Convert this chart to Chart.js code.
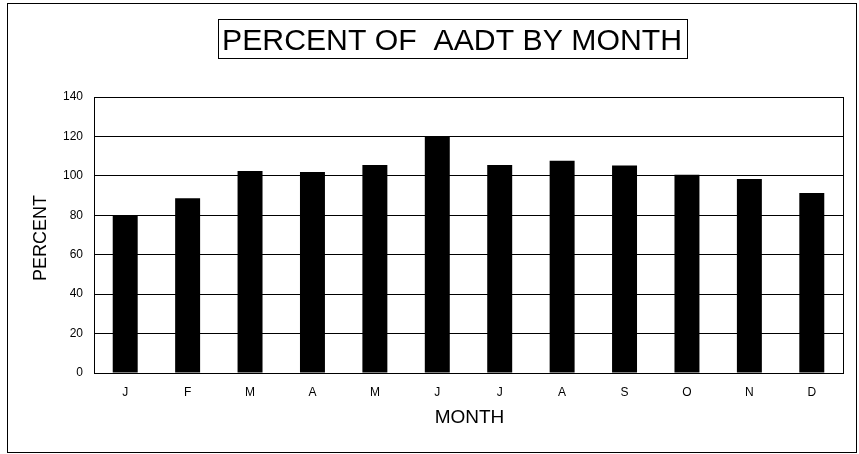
<!DOCTYPE html>
<html>
<head>
<meta charset="utf-8">
<script src="https://cdn.jsdelivr.net/npm/chart.js@4.4.0/dist/chart.umd.min.js"></script>
<style>
  body { margin: 0; background: #fff; }
  canvas { display: block; }
</style>
</head>
<body>
<canvas id="myChart" width="859" height="454"></canvas>
<script>
// data
var months = ["J", "F", "M", "A", "M", "J", "J", "A", "S", "O", "N", "D"];
var percentAadt = [80.0, 88.6, 102.5, 102.0, 105.5, 120.0, 105.5, 107.7, 105.2, 100.5, 98.4, 91.3];
var yTicks = [0, 20, 40, 60, 80, 100, 120, 140];

var chartTitle = "PERCENT OF  AADT BY MONTH";
var xTitle = "MONTH";
var yTitle = "PERCENT";
var fontFam = '"Liberation Sans", Arial, sans-serif';

// outer frame, boxed title, plot frame and axis titles
var decorations = {
	id: 'decorations',
	afterDraw: function (chart) {
		var ctx = chart.ctx;
		var area = chart.chartArea;
		ctx.save();
		ctx.strokeStyle = '#000';
		ctx.lineWidth = 1;
		// outer frame
		ctx.strokeRect(7.5, 3.5, 849, 449);
		// plot frame
		ctx.strokeRect(Math.round(area.left) + 0.5, Math.round(area.top) + 0.5,
			Math.round(area.right - area.left), Math.round(area.bottom - area.top));
		// title box
		ctx.strokeRect(218.5, 19.5, 469, 39);

		// title text, squeezed to the width in the picture
		ctx.fillStyle = '#000';
		ctx.font = '30px ' + fontFam;
		ctx.textBaseline = 'alphabetic';
		var w = ctx.measureText(chartTitle).width;
		ctx.save();
		ctx.translate(222, 50);
		ctx.scale(460 / w, 1);
		ctx.fillText(chartTitle, 0, 0);
		ctx.restore();

		// x axis title
		ctx.font = '19px ' + fontFam;
		ctx.textAlign = 'center';
		ctx.fillText(xTitle, (area.left + area.right) / 2 + 1, 423);

		// y axis title
		ctx.save();
		ctx.translate(46, (area.top + area.bottom) / 2 + 3);
		ctx.rotate(-Math.PI / 2);
		ctx.font = '18px ' + fontFam;
		ctx.fillText(yTitle, 0, 0);
		ctx.restore();
		ctx.restore();
	}
};

var ctx = document.getElementById("myChart").getContext('2d');
var myChart = new Chart(ctx, {
	type: 'bar',
	data: {
		labels: months,
		datasets: [{
			data: percentAadt,
			backgroundColor: '#000',
			borderWidth: 0,
			barPercentage: 0.4,
			categoryPercentage: 1.0
		}]
	},
	options: {
		responsive: false,
		animation: false,
		layout: { padding: { left: 0, top: 97, right: 16, bottom: 0 } },
		plugins: {
			legend: { display: false },
			tooltip: { enabled: false },
			title: { display: false }
		},
		scales: {
			x: {
				grid: { display: false, drawTicks: false },
				border: { display: true, color: '#000' },
				ticks: {
					color: '#000',
					padding: 12,
					font: { family: fontFam, size: 12 }
				},
				afterFit: function (scale) { scale.height = 81; }
			},
			y: {
				min: 0,
				max: 140,
				afterBuildTicks: function (scale) {
					scale.ticks = yTicks.map(function (v) { return { value: v }; });
				},
				grid: { color: '#000', drawTicks: false, lineWidth: 1 },
				border: { display: true, color: '#000' },
				ticks: {
					color: '#000',
					padding: 11,
					font: { family: fontFam, size: 12 }
				},
				afterFit: function (scale) { scale.width = 94; }
			}
		}
	},
	plugins: [decorations]
});
</script>
</body>
</html>
